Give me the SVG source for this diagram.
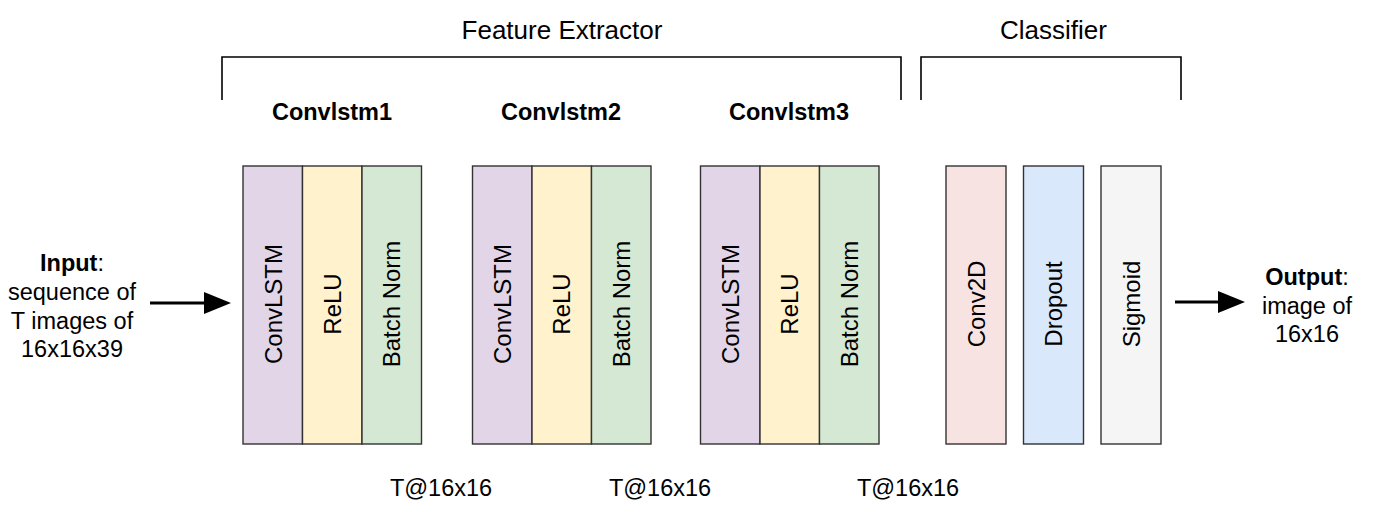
<svg xmlns="http://www.w3.org/2000/svg" width="1384" height="520" viewBox="0 0 1384 520">
<defs>
<style>
text{font-family:"Liberation Sans",Arial,Helvetica,sans-serif;fill:#000}
.t{font-size:23.5px;text-anchor:middle}
.h{font-size:26px;text-anchor:middle}
.b{font-size:23.5px;font-weight:bold;text-anchor:middle}
.v{font-size:24px;text-anchor:middle;dominant-baseline:central}
.box{stroke:#333;stroke-width:1.4}
.cl{fill:#e1d5e7}.re{fill:#fff2cc}.bn{fill:#d5e8d4}
.c2{fill:#f8e3e3}.dr{fill:#dae8fc}.sg{fill:#f5f5f5}
.br{fill:none;stroke:#000;stroke-width:1.6}
.ar{fill:none;stroke:#000;stroke-width:3}
</style>
</defs>
<rect width="1384" height="520" fill="#fff"/>

<g id="brackets">
<path class="br" d="M222,100 V57 H901 V100"/>
<path class="br" d="M921,100 V57 H1181 V100"/>
<text class="h" x="562" y="39">Feature Extractor</text>
<text class="h" x="1053.5" y="39">Classifier</text>
</g>

<g id="input">
<text class="b" x="72" y="271">Input<tspan font-weight="normal">:</tspan></text>
<text class="t" x="72" y="300">sequence of</text>
<text class="t" x="72" y="328.5">T images of</text>
<text class="t" x="72" y="357">16x16x39</text>
</g>

<g id="convlstm1">
<text class="b" x="332" y="120">Convlstm1</text>
<rect class="box cl" x="243" y="166" width="59.5" height="278"/>
<rect class="box re" x="302.5" y="166" width="59.5" height="278"/>
<rect class="box bn" x="362" y="166" width="59.5" height="278"/>
<text class="v" transform="translate(273,304) rotate(-90)">ConvLSTM</text>
<text class="v" transform="translate(332,304) rotate(-90)">ReLU</text>
<text class="v" transform="translate(391.5,304) rotate(-90)">Batch Norm</text>
</g>

<g id="convlstm2">
<text class="b" x="561" y="120">Convlstm2</text>
<rect class="box cl" x="472.5" y="166" width="59.5" height="278"/>
<rect class="box re" x="532" y="166" width="59.5" height="278"/>
<rect class="box bn" x="591.5" y="166" width="59.5" height="278"/>
<text class="v" transform="translate(502,304) rotate(-90)">ConvLSTM</text>
<text class="v" transform="translate(561.5,304) rotate(-90)">ReLU</text>
<text class="v" transform="translate(621,304) rotate(-90)">Batch Norm</text>
</g>

<g id="convlstm3">
<text class="b" x="789" y="120">Convlstm3</text>
<rect class="box cl" x="700.5" y="166" width="59.5" height="278"/>
<rect class="box re" x="760" y="166" width="59.5" height="278"/>
<rect class="box bn" x="819.5" y="166" width="59.5" height="278"/>
<text class="v" transform="translate(730,304) rotate(-90)">ConvLSTM</text>
<text class="v" transform="translate(789.5,304) rotate(-90)">ReLU</text>
<text class="v" transform="translate(849,304) rotate(-90)">Batch Norm</text>
</g>

<g id="conv2d">
<rect class="box c2" x="946" y="166" width="60" height="278"/>
<text class="v" transform="translate(976,304) rotate(-90)">Conv2D</text>
</g>
<g id="dropout">
<rect class="box dr" x="1023.5" y="166" width="60" height="278"/>
<text class="v" transform="translate(1053.5,304) rotate(-90)">Dropout</text>
</g>
<g id="sigmoid">
<rect class="box sg" x="1101" y="166" width="60" height="278"/>
<text class="v" transform="translate(1131,304) rotate(-90)">Sigmoid</text>
</g>

<g id="shapes">
<text class="t" x="441" y="496">T@16x16</text>
<text class="t" x="660" y="496">T@16x16</text>
<text class="t" x="908" y="496">T@16x16</text>
</g>

<g id="output">
<text class="b" x="1307" y="285">Output<tspan font-weight="normal">:</tspan></text>
<text class="t" x="1307" y="313.5">image of</text>
<text class="t" x="1307" y="342">16x16</text>
</g>

<g id="connectors">
<line class="ar" x1="150" y1="303" x2="208" y2="303"/>
<path d="M204,292 L231,303 L204,314 z" fill="#000"/>
<line class="ar" x1="1175" y1="302" x2="1222" y2="302"/>
<path d="M1218,291 L1245,302 L1218,313 z" fill="#000"/>
</g>
</svg>
